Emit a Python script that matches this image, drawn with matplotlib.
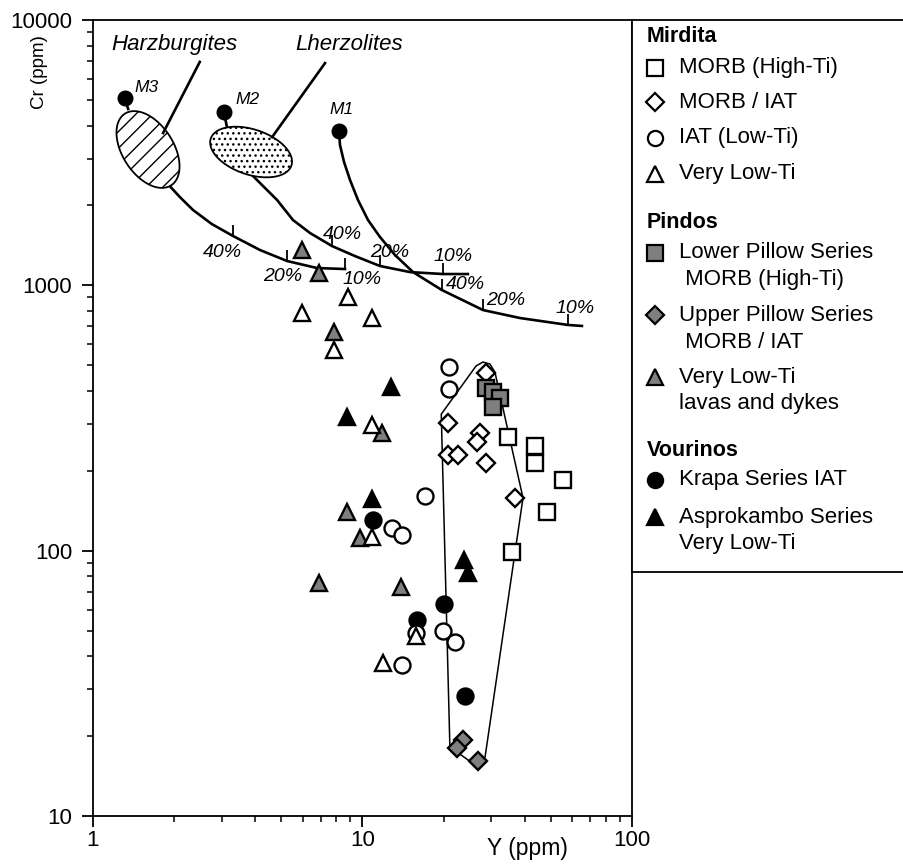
import numpy as np
import matplotlib
matplotlib.use("Agg")
import matplotlib.pyplot as plt
from matplotlib.patches import Polygon
from matplotlib.ticker import FixedLocator, FixedFormatter, LogLocator, NullFormatter

plt.rcParams['font.family'] = ['Liberation Sans', 'DejaVu Sans']
plt.rcParams['hatch.color'] = 'black'
plt.rcParams['hatch.linewidth'] = 1.0

# ---- sample data: Y (ppm) vs Cr (ppm) ----
# Mirdita
mir_morb_y = [34.7, 43.6, 43.6, 55.5, 48.4, 35.9]
mir_morb_cr = [268, 248, 214, 184, 140, 98.8]
mir_morbiat_y = [28.7, 20.8, 27.3, 26.6, 20.8, 22.6, 28.7, 36.8]
mir_morbiat_cr = [467, 303, 277, 257, 229, 229, 214, 158]
mir_iat_y = [20.9, 20.9, 17.1, 12.9, 14.0, 15.8, 19.9, 22.0, 14.0]
mir_iat_cr = [492, 406, 161, 122, 115, 48.9, 49.8, 45.2, 37.1]
mir_vlt_y = [8.84, 5.97, 10.8, 7.84, 10.8, 10.8, 11.9, 15.8]
mir_vlt_cr = [903, 787, 753, 570, 297, 113, 37.7, 47.6]
# Pindos
pin_lps_y = [28.7, 30.5, 32.4, 30.5]
pin_lps_cr = [410, 396, 376, 348]
pin_ups_y = [23.6, 22.4, 26.8]
pin_ups_cr = [19.3, 18.0, 16.1]
pin_vlt_y = [5.97, 6.90, 7.84, 11.8, 8.76, 9.79, 6.90, 13.9]
pin_vlt_cr = [1358, 1112, 667, 277, 140, 112, 75.5, 72.9]
# Vourinos
vou_krapa_y = [10.9, 20.1, 15.9, 24.0]
vou_krapa_cr = [130, 62.9, 54.7, 28.3]
vou_aspro_y = [12.8, 8.76, 10.8, 23.8, 24.6]
vou_aspro_cr = [414, 319, 156, 92.2, 82.3]

# field outline
field_y = [19.6, 21.1, 26.8, 28.5, 39.4, 31.0, 29.7, 28.0, 26.4, 19.6]
field_cr = [327, 18.2, 15.3, 16.7, 158, 471, 505, 514, 497, 327]

# mantle sources and melting curves
src_names = ['M1', 'M2', 'M3']
src_y = [8.18, 3.06, 1.31]
src_cr = [3815, 4500, 5080]
m1_y = [8.18, 8.25, 8.54, 8.99, 9.62, 10.48, 11.61, 13.2, 15.4, 19.7, 28.0, 38.4, 57.9, 65.2]
m1_cr = [3815, 3380, 2917, 2494, 2097, 1763, 1521, 1301, 1122, 960, 807, 753, 709, 703]
m2_y = [3.89, 4.35, 4.82, 5.52, 6.39, 7.71, 9.38, 11.6, 15.0, 19.9, 24.6]
m2_cr = [2605, 2326, 2097, 1763, 1574, 1406, 1289, 1183, 1122, 1103, 1103]
m3_y = [1.88, 2.10, 2.35, 2.76, 3.31, 4.17, 5.25, 6.78, 8.61]
m3_cr = [2431, 2152, 1923, 1702, 1534, 1358, 1235, 1162, 1152]
stem_y = [[3.06, 3.14], [1.31, 1.35]]
stem_cr = [[4500, 3952], [5080, 4620]]

# melting-degree ticks and labels (40 %, 20 %, 10 %)
pct_labels = ['40%', '20%', '10%'] * 3
pct_tick_y = [19.7, 28.0, 57.9, 7.71, 11.6, 19.9, 3.31, 5.25, 8.61]
pct_tick_cr = [960, 807, 709, 1406, 1183, 1103, 1534, 1235, 1152]
pct_text_y = [24.0, 34.1, 61.4, 8.39, 12.65, 21.7, 3.01, 5.07, 9.95]
pct_text_cr = [1011, 873, 821, 1561, 1335, 1279, 1324, 1084, 1056]

# peridotite fields: centre, semi-axes (decades), angle (deg)
harz = (1.60, 3250, 0.160, 0.095, -58)
lherz = (3.86, 3180, 0.158, 0.085, -19)

W, H = 904, 868
fig = plt.figure(figsize=(W / 100, H / 100), dpi=100)
ax = fig.add_axes([93 / W, 52 / H, 539 / W, 796 / H])
ax.set_xscale('log')
ax.set_yscale('log')
ax.set_xlim(1, 100)
ax.set_ylim(10, 10000)

ax.xaxis.set_major_locator(FixedLocator([1, 10, 100]))
ax.xaxis.set_major_formatter(FixedFormatter(['1', '10', '100']))
ax.yaxis.set_major_locator(FixedLocator([10, 100, 1000, 10000]))
ax.yaxis.set_major_formatter(FixedFormatter(['10', '100', '1000', '10000']))
for a in (ax.xaxis, ax.yaxis):
    a.set_minor_locator(LogLocator(base=10, subs=np.arange(2, 10)))
    a.set_minor_formatter(NullFormatter())
ax.tick_params(axis='both', which='major', direction='out', length=8, width=1.3,
               labelsize=16)
ax.tick_params(axis='both', which='minor', direction='out', length=4, width=1.1)
ax.tick_params(axis='y', which='major', pad=7)
ax.tick_params(axis='x', which='major', pad=2)
for s in ax.spines.values():
    s.set_linewidth(1.3)


def ellipse_outline(cx, cy, a, b, ang):
    t = np.linspace(0, 2 * np.pi, 120)
    th = np.radians(ang)
    lx = np.log10(cx) + a * np.cos(t) * np.cos(th) - b * np.sin(t) * np.sin(th)
    ly = np.log10(cy) + a * np.cos(t) * np.sin(th) + b * np.sin(t) * np.cos(th)
    return np.column_stack([10 ** lx, 10 ** ly])


ax.add_patch(Polygon(ellipse_outline(*harz), closed=True, facecolor='white',
                     edgecolor='black', hatch='//', lw=1.3, zorder=3))
ax.add_patch(Polygon(ellipse_outline(*lherz), closed=True, facecolor='white',
                     edgecolor='black', hatch='...', lw=1.3, zorder=3))

# melting curves
for xs, ys in [(m1_y, m1_cr), (m2_y, m2_cr), (m3_y, m3_cr)]:
    ax.plot(xs, ys, color='black', lw=1.9, zorder=2)
for xs, ys in zip(stem_y, stem_cr):
    ax.plot(xs, ys, color='black', lw=1.9, zorder=2)
ax.plot(src_y, src_cr, ls='none', marker='o', ms=10.5, color='black', zorder=4)
ax.plot(pct_tick_y, pct_tick_cr, ls='none', marker=2, ms=8, mew=1.3,
        color='black', zorder=2)
for lab, x, y in zip(pct_labels, pct_text_y, pct_text_cr):
    ax.text(x, y, lab, style='italic', fontsize=14, ha='center', va='center')

# M labels
for name, x, y in zip(src_names, [7.51, 3.39, 1.43], [4580, 4995, 5590]):
    ax.text(x, y, name, style='italic', fontsize=12.5, ha='left', va='center')

# peridotite labels with leaders
ax.text(2.00, 8050, 'Harzburgites', style='italic', fontsize=16, ha='center', va='center')
ax.text(8.91, 8050, 'Lherzolites', style='italic', fontsize=16, ha='center', va='center')
ax.plot([2.49, 1.82], [6950, 3750], color='black', lw=1.9, zorder=4)
ax.plot([7.26, 4.62], [6880, 3620], color='black', lw=1.9, zorder=4)

# field
ax.add_patch(Polygon(np.column_stack([field_y, field_cr]), closed=True, fill=False,
                     edgecolor='black', lw=1.1, zorder=2))

gray = '#7f7f7f'
styles = {
    'mir_morb': dict(marker='s', ms=11.5, mfc='white'),
    'mir_morbiat': dict(marker='D', ms=9.3, mfc='white'),
    'mir_iat': dict(marker='o', ms=11.5, mfc='white'),
    'mir_vlt': dict(marker='^', ms=11.5, mfc='white'),
    'pin_lps': dict(marker='s', ms=11.5, mfc=gray),
    'pin_ups': dict(marker='D', ms=9.3, mfc=gray),
    'pin_vlt': dict(marker='^', ms=11.5, mfc=gray),
    'vou_krapa': dict(marker='o', ms=11.5, mfc='black'),
    'vou_aspro': dict(marker='^', ms=11.5, mfc='black'),
}
series = [
    ('mir_morb', mir_morb_y, mir_morb_cr),
    ('mir_morbiat', mir_morbiat_y, mir_morbiat_cr),
    ('pin_lps', pin_lps_y, pin_lps_cr),
    ('pin_ups', pin_ups_y, pin_ups_cr),
    ('vou_krapa', vou_krapa_y, vou_krapa_cr),
    ('mir_iat', mir_iat_y, mir_iat_cr),
    ('pin_vlt', pin_vlt_y, pin_vlt_cr),
    ('mir_vlt', mir_vlt_y, mir_vlt_cr),
    ('vou_aspro', vou_aspro_y, vou_aspro_cr),
]
for key, xs, ys in series:
    ax.plot(xs, ys, ls='none', mec='black', mew=1.7, zorder=5, **styles[key])

fig.text(527 / W, 1 - 849 / H, 'Y (ppm)', fontsize=16.5, ha='center', va='center')
fig.text(40 / W, 1 - 72 / H, 'Cr (ppm)', fontsize=13.5, rotation=90,
         ha='center', va='center')

# legend box
lax = fig.add_axes([632 / W, (H - 572) / H, (W - 632) / W, 552 / H])
lax.set_xlim(0, W - 632)
lax.set_ylim(552, 0)
lax.set_xticks([])
lax.set_yticks([])
lax.spines['right'].set_visible(False)
for s in lax.spines.values():
    s.set_linewidth(1.3)

groups = [('Mirdita', 17), ('Pindos', 203), ('Vourinos', 430)]
for title, y in groups:
    lax.text(15, y, title, fontsize=15.5, fontweight='bold', va='center', ha='left')

entries = [
    ('mir_morb', 48, ['MORB (High-Ti)']),
    ('mir_morbiat', 82, ['MORB / IAT']),
    ('mir_iat', 118, ['IAT (Low-Ti)']),
    ('mir_vlt', 154, ['Very Low-Ti']),
    ('pin_lps', 233, ['Lower Pillow Series', ' MORB (High-Ti)']),
    ('pin_ups', 295, ['Upper Pillow Series', ' MORB / IAT']),
    ('pin_vlt', 357, ['Very Low-Ti', 'lavas and dykes']),
    ('vou_krapa', 460, ['Krapa Series IAT']),
    ('vou_aspro', 497, ['Asprokambo Series', 'Very Low-Ti']),
]
for key, y, lines in entries:
    st = dict(styles[key])
    st['ms'] = st['ms'] * 0.95
    lax.plot([23], [y], ls='none', mec='black', mew=1.6, **st)
    for i, line in enumerate(lines):
        lax.text(47, y + i * 27, line, fontsize=16, va='center', ha='left')

fig.savefig('out.png', dpi=100)
